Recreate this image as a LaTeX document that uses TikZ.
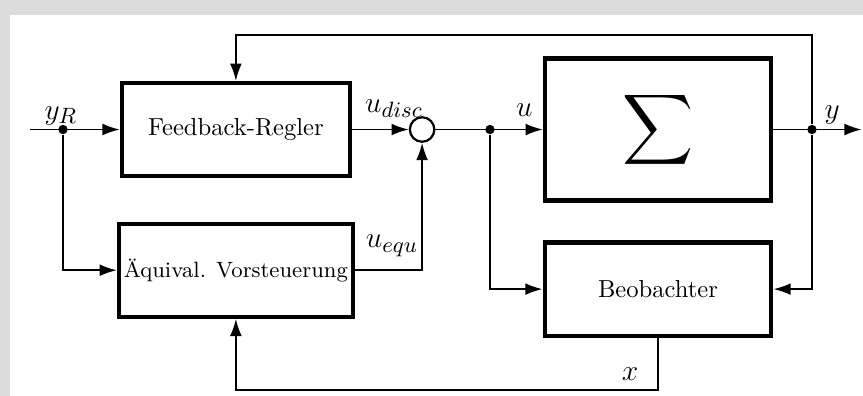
\documentclass[tikz,border=0pt]{standalone}
\usepackage{tikz}
\usetikzlibrary{positioning, arrows.meta, calc}
\definecolor{FrameGray}{HTML}{DCDCDC}

\begin{document}
\begin{tikzpicture}[
  block/.style={draw, line width=1.7pt, minimum width=3.26cm, minimum height=1.33cm,
                align=center, inner sep=2pt},
  sumnode/.style={circle, draw, line width=0.9pt, minimum size=0.35cm, inner sep=0pt},
  junction/.style={circle, fill, inner sep=0pt, minimum size=3.8pt},
  sig/.style={-{Latex[length=7pt, width=4.8pt]}, line width=0.7pt},
  lbl/.style={font=\fontsize{13}{15}\selectfont, inner sep=1pt},
]
  \useasboundingbox (0,-5.657) rectangle (12.329,0);
  \fill[FrameGray] (0,-5.657) rectangle (12.329,0);
  \fill[white] (0.143,-5.657) rectangle (12.329,-0.214);

  \node[block] (regler) at (3.37,-1.85) {Feedback-Regler};
  \node[block, font=\small] (vorst) at (3.37,-3.86) {\"Aquival. Vorsteuerung};
  \node[block, minimum width=3.23cm, minimum height=2.03cm] (plant) at (9.40,-1.85)
    {\scalebox{2}{$\displaystyle\sum$}};
  \node[block, minimum width=3.24cm] (obs) at (9.40,-4.13) {Beobachter};
  \node[sumnode] (sum) at (6.03,-1.85) {};

  \coordinate (in) at (0.43,-1.85);
  \node[junction] (jin) at (0.90,-1.85) {};
  \node[junction] (ju) at (7.00,-1.85) {};
  \node[junction] (jy) at (11.60,-1.85) {};
  \coordinate (out) at (12.31,-1.85);
  \coordinate (top) at (0,-0.50);
  \coordinate (bot) at (0,-5.57);

  \draw[sig] (in) -- (regler.west);
  \draw[sig] (jin) |- (vorst.west);
  \draw[sig] (regler.east) -- (sum.west);
  \draw[sig] (vorst.east) -| (sum.south);
  \draw[sig] (sum.east) -- (plant.west);
  \draw[sig] (plant.east) -- (out);
  \draw[sig] (ju) |- (obs.west);
  \draw[sig] (jy) |- (obs.east);
  \draw[sig] (jy) -- (jy |- top) -| (regler.north);
  \draw[sig] (obs.south) -- (obs.south |- bot) -| (vorst.south);

  \node[lbl, anchor=base] (lyr) at (0.87,-1.70) {$y_R$};
  \node[lbl, anchor=base] (ludisc) at (5.63,-1.60) {$u_{disc}$};
  \node[lbl, anchor=base] (lu) at (7.49,-1.66) {$u$};
  \node[lbl, anchor=base] (ly) at (11.89,-1.69) {$y$};
  \node[lbl, anchor=base] (luequ) at (5.60,-3.54) {$u_{equ}$};
  \node[lbl, anchor=base] (lx) at (9.00,-5.43) {$x$};
\end{tikzpicture}
\end{document}
